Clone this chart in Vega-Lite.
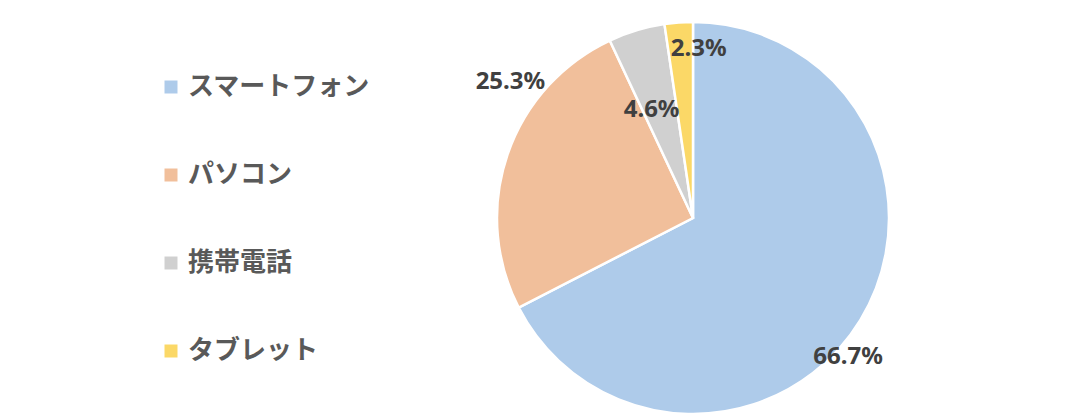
{
  "$schema": "https://vega.github.io/schema/vega-lite/v6.json",
  "width": 392,
  "height": 392,
  "autosize": {"type": "none"},
  "padding": {"left": 497, "top": 22, "right": 193, "bottom": 0},
  "background": "white",
  "config": {"view": {"stroke": null}},
  "data": {
    "values": [
      {"device": "スマートフォン", "share": 0.667, "o": 1},
      {"device": "パソコン", "share": 0.253, "o": 2},
      {"device": "携帯電話", "share": 0.046, "o": 3},
      {"device": "タブレット", "share": 0.023, "o": 4}
    ]
  },
  "encoding": {
    "theta": {"field": "share", "type": "quantitative", "stack": true},
    "order": {"field": "o", "type": "quantitative"},
    "text": {"field": "share", "type": "quantitative", "format": ".1%"}
  },
  "layer": [
    {
      "mark": {"type": "arc", "stroke": "white", "strokeWidth": 2.5, "radius": 196},
      "encoding": {
        "text": null,
        "color": {
          "field": "device",
          "type": "nominal",
          "scale": {
            "domain": ["スマートフォン", "パソコン", "携帯電話", "タブレット"],
            "range": ["#aecbea", "#f1bf9b", "#d0d0d0", "#fbd867"]
          },
          "legend": {
            "title": null,
            "orient": "none",
            "legendX": -339,
            "legendY": 52,
            "symbolType": "square",
            "symbolSize": 169,
            "symbolStrokeWidth": 0,
            "labelFont": "Noto Sans CJK JP",
            "labelFontSize": 26,
            "labelFontWeight": "bold",
            "labelColor": "#595959",
            "labelOffset": 4,
            "rowPadding": 62,
            "labelLimit": 400
          }
        }
      }
    },
    {
      "mark": {"type": "text", "radius": 204, "dx": -19, "dy": 33, "font": "Noto Sans", "fontSize": 24, "fontWeight": "bold", "fill": "#404040"},
      "encoding": {"opacity": {"condition": {"test": "datum.o == 1", "value": 1}, "value": 0}}
    },
    {
      "mark": {"type": "text", "radius": 213, "dx": 19, "dy": -67, "font": "Noto Sans", "fontSize": 24, "fontWeight": "bold", "fill": "#404040"},
      "encoding": {"opacity": {"condition": {"test": "datum.o == 2", "value": 1}, "value": 0}}
    },
    {
      "mark": {"type": "text", "radius": 116, "dx": -8, "dy": 3, "font": "Noto Sans", "fontSize": 24, "fontWeight": "bold", "fill": "#404040"},
      "encoding": {"opacity": {"condition": {"test": "datum.o == 3", "value": 1}, "value": 0}}
    },
    {
      "mark": {"type": "text", "radius": 168, "dx": 18, "dy": -1, "font": "Noto Sans", "fontSize": 24, "fontWeight": "bold", "fill": "#404040"},
      "encoding": {"opacity": {"condition": {"test": "datum.o == 4", "value": 1}, "value": 0}}
    }
  ]
}
